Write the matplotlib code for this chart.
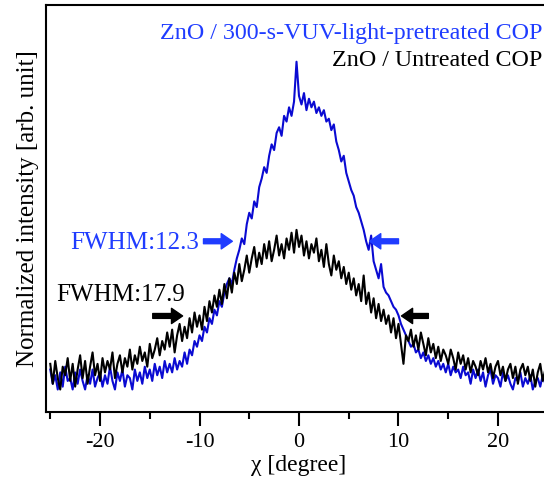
import numpy as np
import matplotlib
matplotlib.use("Agg")
import matplotlib.pyplot as plt
from matplotlib.ticker import MultipleLocator

# chi sampled every 0.25 degree from -25 to 25
chi = np.linspace(-25, 25, 201)

# ZnO / 300-s-VUV-light-pretreated COP (normalized)
vuv = [
    0.03, -0.02, 0.01, -0.04,   0.02, -0.03, 0.04, -0.01,
    0.00, -0.04, 0.02, -0.02,   0.03, -0.01, -0.04, 0.01,
    -0.02, 0.03, -0.03, 0.00,   0.02, -0.03, 0.01, -0.02,
    0.04, -0.01, -0.04, 0.02,   -0.01, 0.03, -0.03, 0.01,
    0.00, -0.04, 0.03, -0.01,   0.02, -0.02, 0.04, 0.00,
    0.03, -0.01, 0.05, 0.01,    0.04, 0.00, 0.06, 0.02,
    0.05, 0.02, 0.07, 0.03,     0.06, 0.04, 0.09, 0.05,
    0.10, 0.08, 0.13, 0.11,     0.15, 0.13, 0.18, 0.16,
    0.21, 0.19, 0.24, 0.22,     0.27, 0.25, 0.30, 0.33,
    0.35, 0.33, 0.38, 0.42,     0.45, 0.49, 0.47, 0.54,
    0.58, 0.56, 0.62, 0.60,     0.67, 0.70, 0.74, 0.72,
    0.78, 0.82, 0.80, 0.86,     0.88, 0.85, 0.92, 0.90,
    0.95, 0.92, 0.97, 1.11,     0.99, 0.96, 1.00, 0.94,
    0.98, 0.95, 0.97, 0.93,     0.95, 0.92, 0.94, 0.90,
    0.91, 0.87, 0.89, 0.83,     0.80, 0.76, 0.78, 0.72,
    0.69, 0.66, 0.64, 0.60,     0.58, 0.55, 0.52, 0.48,
    0.45, 0.50, 0.41, 0.38,     0.35, 0.40, 0.32, 0.30,
    0.29, 0.27, 0.25, 0.24,     0.22, 0.19, 0.17, 0.15,
    0.13, 0.11, 0.12, 0.09,     0.10, 0.07, 0.09, 0.06,
    0.08, 0.05, 0.07, 0.04,     0.06, 0.03, 0.05, 0.02,
    0.05, 0.01, 0.04, 0.02,     0.03, 0.00, 0.04, 0.01,
    0.02, -0.02, 0.03, 0.00,    0.03, -0.01, 0.02, -0.03,
    0.01, 0.03, -0.02, 0.01,    0.00, -0.03, 0.02, -0.01,
    0.01, -0.02, -0.04, 0.00,   -0.01, 0.02, -0.03, 0.00,
    -0.02, 0.01, -0.04, -0.01,  0.00, -0.03, 0.01, -0.02,
    -0.01,
]

# ZnO / Untreated COP
untreated = [
    0.05, -0.02, 0.06, 0.00,    -0.04, 0.04, 0.01, 0.07,
    -0.01, 0.05, -0.03, 0.03,   0.08, 0.00, 0.06, -0.02,
    0.04, 0.09, 0.01, 0.05,     -0.01, 0.07, 0.02, 0.06,
    0.03, 0.09, 0.00, 0.05,     0.08, 0.02, 0.07, 0.04,
    0.10, 0.03, 0.08, 0.05,     0.11, 0.06, 0.09, 0.04,
    0.12, 0.07, 0.10, 0.14,     0.08, 0.13, 0.10, 0.16,
    0.11, 0.17, 0.09, 0.15,     0.19, 0.13, 0.18, 0.14,
    0.21, 0.16, 0.23, 0.18,     0.22, 0.17, 0.25, 0.20,
    0.27, 0.23, 0.29, 0.25,     0.31, 0.26, 0.33, 0.28,
    0.35, 0.30, 0.37, 0.33,     0.40, 0.34, 0.38, 0.43,
    0.37, 0.42, 0.46, 0.39,     0.44, 0.40, 0.47, 0.42,
    0.48, 0.41, 0.45, 0.50,     0.43, 0.47, 0.42, 0.49,
    0.45, 0.51, 0.44, 0.52,     0.46, 0.50, 0.43, 0.48,
    0.42, 0.47, 0.44, 0.49,     0.41, 0.45, 0.39, 0.47,
    0.40, 0.36, 0.43, 0.38,     0.41, 0.35, 0.39, 0.33,
    0.37, 0.31, 0.35, 0.29,     0.33, 0.27, 0.36, 0.26,
    0.30, 0.23, 0.28, 0.21,     0.26, 0.20, 0.24, 0.19,
    0.22, 0.16, 0.21, 0.14,     0.19, 0.12, 0.05, 0.15,
    0.13, 0.17, 0.11, 0.15,     0.10, 0.16, 0.12, 0.08,
    0.14, 0.09, 0.12, 0.07,     0.11, 0.06, 0.10, 0.08,
    0.05, 0.10, 0.07, 0.03,     0.09, 0.05, 0.08, 0.03,
    0.07, 0.02, 0.06, 0.04,     0.01, 0.06, 0.03, 0.07,
    0.02, 0.05, 0.00, 0.04,     0.06, 0.01, 0.04, -0.01,
    0.03, 0.05, 0.00, 0.04,     -0.02, 0.03, 0.05, 0.01,
    0.04, -0.01, 0.03, -0.03,   0.02, 0.05, -0.01, 0.03,
    0.01,
]

vuv_label = "ZnO / 300-s-VUV-light-pretreated COP"
untreated_label = "ZnO / Untreated COP"
vuv_fwhm = "FWHM:12.3"
untreated_fwhm = "FWHM:17.9"

LINE_BLUE = "#0a0ad2"
TEXT_BLUE = "#1f3cff"

plt.rcParams["font.family"] = ["Liberation Serif", "DejaVu Serif"]
plt.rcParams["axes.unicode_minus"] = False

fig = plt.figure(figsize=(5.44, 4.88), dpi=100)
ax = fig.add_axes([46 / 544, 76 / 488, 506 / 544, 407 / 488])

ax.plot(chi, vuv, color=LINE_BLUE, lw=1.5)
ax.plot(chi, untreated, color="black", lw=1.5)

ax.set_xlim(-25.43, 25.43)
ax.set_ylim(-0.119, 1.309)
ax.xaxis.set_major_locator(MultipleLocator(10))
ax.xaxis.set_minor_locator(MultipleLocator(5))
ax.tick_params(axis="x", which="major", direction="out", length=10, width=1.5,
               labelsize=16, pad=5)
ax.tick_params(axis="x", which="minor", direction="out", length=5, width=1.5)
ax.set_yticks([])
for s in ax.spines.values():
    s.set_linewidth(1.5)

ax.set_xlabel("χ [degree]", fontsize=17, labelpad=2)
ax.set_ylabel("Normalized intensity [arb. unit]", fontsize=18, labelpad=5)

# FWHM arrows
arrow_kw = dict(width=3.5, headwidth=11, headlength=8, shrink=0)
for x0, x1, y, c in [(-9.6, -6.7, 0.48, TEXT_BLUE), (10.0, 7.1, 0.48, TEXT_BLUE),
                     (-14.7, -11.7, 0.218, "black"), (13.0, 10.3, 0.218, "black")]:
    ax.annotate("", xy=(x1, y), xytext=(x0, y),
                arrowprops=dict(facecolor=c, edgecolor=c, **arrow_kw))

ax.text(-23.0, 0.474, vuv_fwhm, color=TEXT_BLUE, fontsize=18, va="center")
ax.text(-24.4, 0.29, untreated_fwhm, color="black", fontsize=18, va="center")

fig.text(542 / 544, 1 - 33 / 488, vuv_label, color=TEXT_BLUE, fontsize=17.3,
         ha="right", va="center")
fig.text(542 / 544, 1 - 61 / 488, untreated_label, color="black", fontsize=17.3,
         ha="right", va="center")

fig.savefig("out.png", dpi=100)
